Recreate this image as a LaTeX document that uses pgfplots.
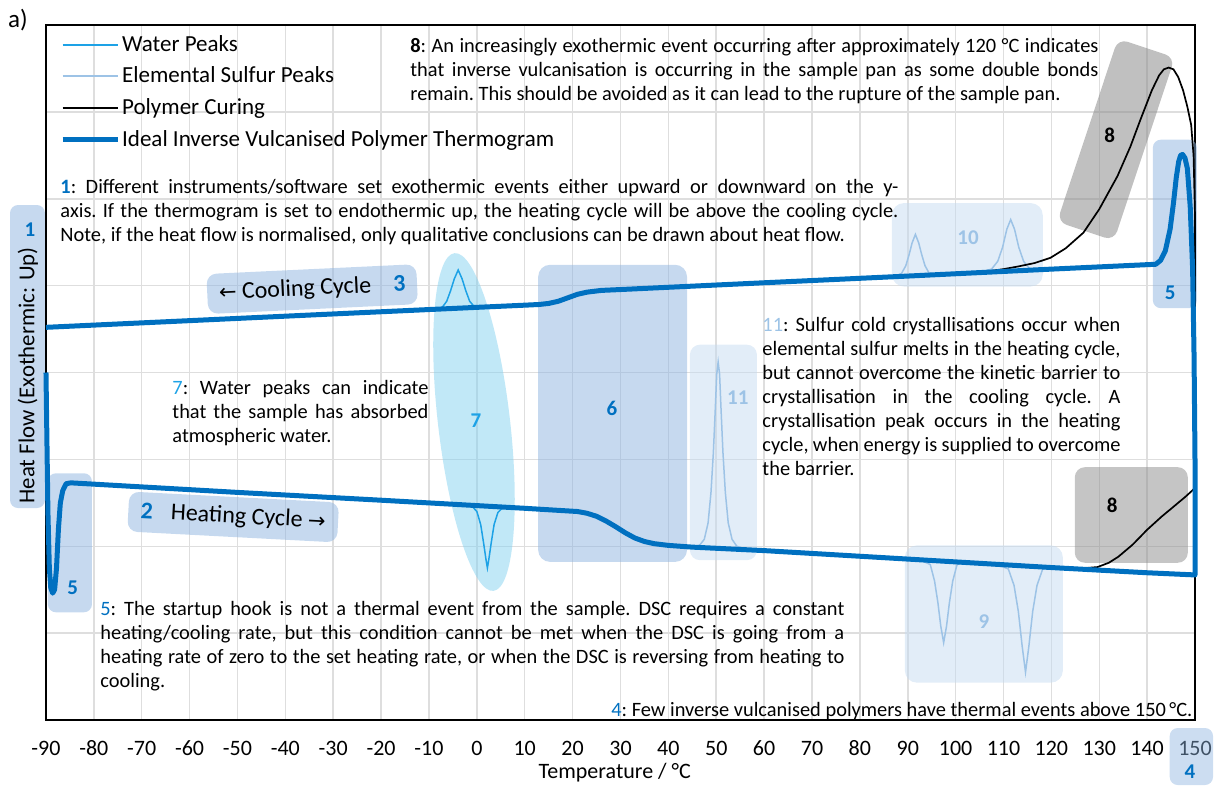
\documentclass[border=0pt]{standalone}
\usepackage{fontspec}
\setmainfont{Carlito}
\newfontfamily\dejavu{DejaVu Sans}
\usepackage{pgfplots}
\pgfplotsset{compat=1.18}
\usetikzlibrary{shapes.geometric}
\definecolor{tblue}{HTML}{0070C0}
\definecolor{water}{HTML}{1DA2E6}
\definecolor{sulf}{HTML}{9DC3E6}
\definecolor{boxA}{HTML}{8DB4E0}
\definecolor{boxL}{HTML}{C5DBF1}
\definecolor{ell}{HTML}{83D1F0}
\definecolor{gridc}{HTML}{DEDEDE}
\definecolor{grayb}{HTML}{8C8C8C}
\newcommand\bodyfont{\fontsize{10.2}{12}\selectfont\frenchspacing\tolerance=9999\hbadness=10000}
\newcommand\numfont{\fontsize{10.5}{12}\selectfont\bfseries}
\begin{document}
\begin{tikzpicture}
\begin{axis}[
  width=574.5pt, height=347.5pt, scale only axis,
  xmin=-90, xmax=150, ymin=0, ymax=8,
  xtick={-90,-80,...,150}, ytick={1,...,7},
  yticklabels={},
  grid=major, major grid style={gridc, line width=0.75pt},
  major tick length=0pt, tick style={draw=none},
  axis line style={black, line width=1pt},
  clip=false,
  /pgf/number format/assume math mode=true,
  typeset ticklabels with strut,
  xticklabel style={font=\fontsize{11}{12}\selectfont, yshift=-6pt},
  every axis x label/.style={at={(rel axis cs:0.495,-0.0763)}, anchor=center},
  xlabel={Temperature / °C},
  xlabel style={font=\fontsize{11}{12}\selectfont},
  legend cell align=left,
  legend style={at={(rel axis cs:0.012,0.989)}, anchor=north west, draw=none, fill=none,
    inner sep=0pt, row sep=4.4pt, nodes={inner sep=1pt}, font=\fontsize{11.5}{13}\selectfont},
  legend image code/.code={\draw[#1] (0pt,0pt) -- (27.5pt,0pt);},
]
% ---------- shaded annotation shapes ----------
\fill[boxA, fill opacity=0.5, rounded corners=4pt] (rel axis cs:-0.0313,0.305) rectangle (rel axis cs:-0.0009,0.741);
\fill[boxA, fill opacity=0.45, rounded corners=4pt] (rel axis cs:0.978,-0.0115) rectangle (rel axis cs:1.0157,-0.0935);
\fill[boxA, fill opacity=0.5, rounded corners=4pt] (axis cs:-89.6,2.84) rectangle (axis cs:-80.4,1.24);
\fill[boxA, fill opacity=0.5, rounded corners=4pt] (axis cs:141.2,6.68) rectangle (axis cs:150.4,4.74);
\fill[boxA, fill opacity=0.5, rounded corners=6pt] (axis cs:12.8,5.24) rectangle (axis cs:43.9,1.82);
\fill[boxL, fill opacity=0.5, rounded corners=5pt] (axis cs:44.5,4.32) rectangle (axis cs:58.5,1.84);
\fill[boxL, fill opacity=0.5, rounded corners=6pt] (axis cs:86.7,5.95) rectangle (axis cs:118.2,4.99);
\fill[boxL, fill opacity=0.5, rounded corners=6pt] (axis cs:89.4,2.01) rectangle (axis cs:122.4,0.43);
\fill[grayb, fill opacity=0.5, rounded corners=5pt] (axis cs:124.9,2.91) rectangle (axis cs:148.5,1.81);
\node[rectangle, fill=grayb, fill opacity=0.55, rounded corners=5pt, rotate=-18.4,
  minimum width=30pt, minimum height=96.5pt, inner sep=0pt] at (axis cs:133.5,6.68) {};
\node[ellipse, fill=ell, fill opacity=0.5, rotate=6.6, minimum width=36pt,
  minimum height=170pt, inner sep=0pt] at (axis cs:-0.6,3.43) {};
\node[fill=boxA, fill opacity=0.5, text opacity=1, rounded corners=5pt, rotate=2.7,
  minimum width=105pt, minimum height=20pt, inner sep=0pt, font=\fontsize{12}{13}\selectfont]
  at (axis cs:-34.4,4.96) {{\dejavu\fontsize{10.5}{12}\selectfont ←} Cooling Cycle\hspace{11pt}\textcolor{tblue}{\bfseries 3}};
\node[fill=boxA, fill opacity=0.5, text opacity=1, rounded corners=5pt, rotate=-3,
  minimum width=105pt, minimum height=20pt, inner sep=0pt, font=\fontsize{12}{13}\selectfont]
  at (axis cs:-50.9,2.337) {\textcolor{tblue}{\bfseries 2}\hspace{9pt}Heating Cycle {\dejavu\fontsize{10.5}{12}\selectfont →}};

% ---------- legend ----------
\addlegendimage{water, line width=1pt}
\addlegendentry{Water Peaks}
\addlegendimage{sulf, line width=1pt}
\addlegendentry{Elemental Sulfur Peaks}
\addlegendimage{black, line width=0.9pt}
\addlegendentry{Polymer Curing}
\addlegendimage{tblue, line width=2.5pt}
\addlegendentry{Ideal Inverse Vulcanised Polymer Thermogram}

% ---------- water peaks ----------
\addplot[water, line width=0.75pt, forget plot] coordinates {
(-8.5,4.73) (-7.3,4.745) (-6.3,4.82) (-5.5,4.94) (-4.7,5.08) (-3.9,5.18) (-3.1,5.08)
(-2.3,4.94) (-1.5,4.82) (-0.5,4.755) (0.5,4.75)};
\addplot[water, line width=0.75pt, forget plot] coordinates {
(-2,2.474) (-1,2.46) (0,2.40) (0.8,2.25) (1.4,2.04) (1.9,1.85) (2.2,1.75) (2.5,1.85)
(3.0,2.04) (3.6,2.25) (4.4,2.39) (5.4,2.445) (6.5,2.448)};
% ---------- sulfur peaks ----------
\addplot[sulf, line width=0.75pt, forget plot] coordinates {
(45,1.99) (46.5,2.01) (47.5,2.08) (48.3,2.27) (48.9,2.62) (49.4,3.08) (49.8,3.58) (50.1,3.98)
(50.4,4.12) (50.7,3.98) (51.0,3.58) (51.4,3.08) (51.9,2.62) (52.5,2.27) (53.3,2.08) (54.3,2.00) (56,1.965)};
\addplot[sulf, line width=0.75pt, forget plot] coordinates {
(87.5,5.11) (88.7,5.14) (89.6,5.23) (90.3,5.36) (90.9,5.49) (91.6,5.59) (92.3,5.49) (92.9,5.36)
(93.6,5.23) (94.5,5.14) (95.7,5.12) (105.5,5.16) (107.5,5.19) (108.8,5.28) (109.8,5.44)
(110.7,5.65) (111.5,5.76) (112.3,5.65) (113.2,5.44) (114.2,5.28) (115.5,5.19) (117.5,5.17)};
\addplot[sulf, line width=0.75pt, forget plot] coordinates {
(93.5,1.82) (94.7,1.79) (95.6,1.60) (96.3,1.35) (96.9,1.08) (97.5,0.89) (98.1,1.08) (98.7,1.35)
(99.4,1.60) (100.3,1.79) (101.5,1.81) (109.5,1.77) (111.0,1.74) (112.2,1.55) (113.1,1.25)
(113.9,0.85) (114.6,0.55) (115.3,0.85) (116.1,1.25) (117.0,1.55) (118.2,1.74) (119.8,1.76)};
% ---------- polymer curing ----------
\addplot[black, line width=0.85pt, forget plot] coordinates {
(126,1.745) (129.6,1.76) (132,1.81) (134,1.88) (137,2.02) (140,2.19) (143,2.34) (145.4,2.45)
(148,2.57) (150,2.67) (150,5.8) (149.7,6.5) (149.2,6.85) (148.4,7.06) (147.5,7.25) (146.5,7.40)
(145.5,7.49) (144.5,7.51) (143.5,7.49) (142.5,7.42) (141,7.25) (138.6,6.91) (136.5,6.6)
(133.8,6.26) (130,5.88) (126.7,5.61) (123,5.43) (119.8,5.32) (116.5,5.26) (113,5.22) (110,5.19) (105,5.15)};
% ---------- ideal thermogram ----------
\addplot[tblue, line width=2.5pt, line join=round, forget plot] coordinates {
(-90,4.00) (-89.8,3.2) (-89.6,2.4) (-89.3,1.75) (-89.0,1.52) (-88.6,1.46) (-88.2,1.50)
(-87.8,1.75) (-87.4,2.2) (-87.0,2.5) (-86.5,2.64) (-85.8,2.72) (-84.8,2.73) (-50,2.62)
(-20,2.53) (0,2.468) (10,2.437) (18,2.41) (21,2.40) (23,2.38) (25,2.345) (27,2.29) (29,2.225)
(31,2.155) (33,2.095) (35,2.055) (37,2.03) (40,2.01) (45,1.99) (60,1.95) (80,1.885) (100,1.82)
(120,1.755) (140,1.695) (150,1.67)
(150,3.0) (149.8,4.2) (149.5,5.2) (149.0,5.91) (148.4,6.35) (147.9,6.47) (147.4,6.51)
(147.0,6.50) (146.6,6.43) (146.1,6.25) (145.5,5.95) (144.8,5.65) (143.8,5.40) (142.8,5.29)
(141.8,5.246) (120,5.19) (90,5.11) (60,5.033) (30,4.955) (26,4.945) (23,4.925) (21,4.90)
(19,4.86) (17,4.82) (15,4.795) (13,4.783) (10,4.775) (0,4.75) (-30,4.674) (-60,4.597) (-90,4.52)};

% ---------- labels ----------
\node[font=\numfont, text=tblue] at (axis cs:28.2,3.59) {6};
\node[font=\numfont, text=water] at (axis cs:-0.18,3.45) {7};
\node[font=\numfont, text=sulf] at (axis cs:54.5,3.71) {11};
\node[font=\numfont, text=sulf] at (axis cs:102.6,5.55) {10};
\node[font=\numfont, text=sulf] at (axis cs:105.9,1.13) {9};
\node[font=\numfont, text=black] at (axis cs:132.2,6.73) {8};
\node[font=\numfont, text=black] at (axis cs:132.7,2.475) {8};
\node[font=\numfont, text=tblue] at (axis cs:-84.4,1.52) {5};
\node[font=\numfont, text=tblue] at (axis cs:144.8,4.92) {5};
\node[font=\numfont, text=tblue] at (rel axis cs:0.9957,-0.0748) {4};
\node[font=\numfont, text=tblue] at (rel axis cs:-0.0139,0.705) {1};
\node[font=\fontsize{11.4}{13}\selectfont, rotate=90] at (rel axis cs:-0.0157,0.496) {Heat Flow (Exothermic: Up)};
\node[font=\fontsize{12.5}{14}\selectfont] at (rel axis cs:-0.0244,1.007) {a)};

% ---------- text blocks ----------
\node[anchor=north west, inner sep=0pt, text width=344pt, align=justify, font=\bodyfont]
  at (rel axis cs:0.3168,0.982) {\textbf{8}: An increasingly exothermic event occurring after approximately 120 °C indicates\linebreak that inverse vulcanisation is occurring in the sample pan as some double bonds\linebreak remain. This should be avoided as it can lead to the rupture of the sample pan.};
\node[anchor=north west, inner sep=0pt, text width=419pt, align=justify, font=\bodyfont]
  at (rel axis cs:0.0122,0.779) {\textcolor{tblue}{\textbf{1}}: Different instruments/software set exothermic events either upward or downward on the y-\linebreak axis. If the thermogram is set to endothermic up, the heating cycle will be above the cooling cycle.\linebreak Note, if the heat flow is normalised, only qualitative conclusions can be drawn about heat flow.};
\node[anchor=north west, inner sep=0pt, text width=128pt, align=justify, font=\bodyfont]
  at (rel axis cs:0.1097,0.489) {\textcolor{water}{7}: Water peaks can indicate\linebreak that the sample has absorbed\linebreak atmospheric water.};
\node[anchor=north west, inner sep=0pt, text width=179pt, align=justify, font=\bodyfont]
  at (rel axis cs:0.6232,0.580) {\textcolor{sulf}{11}: Sulfur cold crystallisations occur when\linebreak elemental sulfur melts in the heating cycle,\linebreak but cannot overcome the kinetic barrier to\linebreak crystallisation in the cooling cycle. A\linebreak crystallisation peak occurs in the heating\linebreak cycle, when energy is supplied to overcome\linebreak the barrier.};
\node[anchor=north west, inner sep=0pt, text width=372pt, align=justify, font=\bodyfont]
  at (rel axis cs:0.0470,0.171) {\textcolor{tblue}{5}: The startup hook is not a thermal event from the sample. DSC requires a constant\linebreak heating/cooling rate, but this condition cannot be met when the DSC is going from a\linebreak heating rate of zero to the set heating rate, or when the DSC is reversing from heating to\linebreak cooling.};
\node[anchor=east, inner sep=0pt, font=\bodyfont] at (rel axis cs:0.998,0.013)
  {\textcolor{tblue}{4}: Few inverse vulcanised polymers have thermal events above 150\,°C.};

\coordinate (BL) at (rel axis cs:-0.04003,-0.0935);
\coordinate (TR) at (rel axis cs:1.01915,1.036);
\end{axis}
\pgfresetboundingbox
\path[use as bounding box] (BL) rectangle (TR);
\end{tikzpicture}
\end{document}
